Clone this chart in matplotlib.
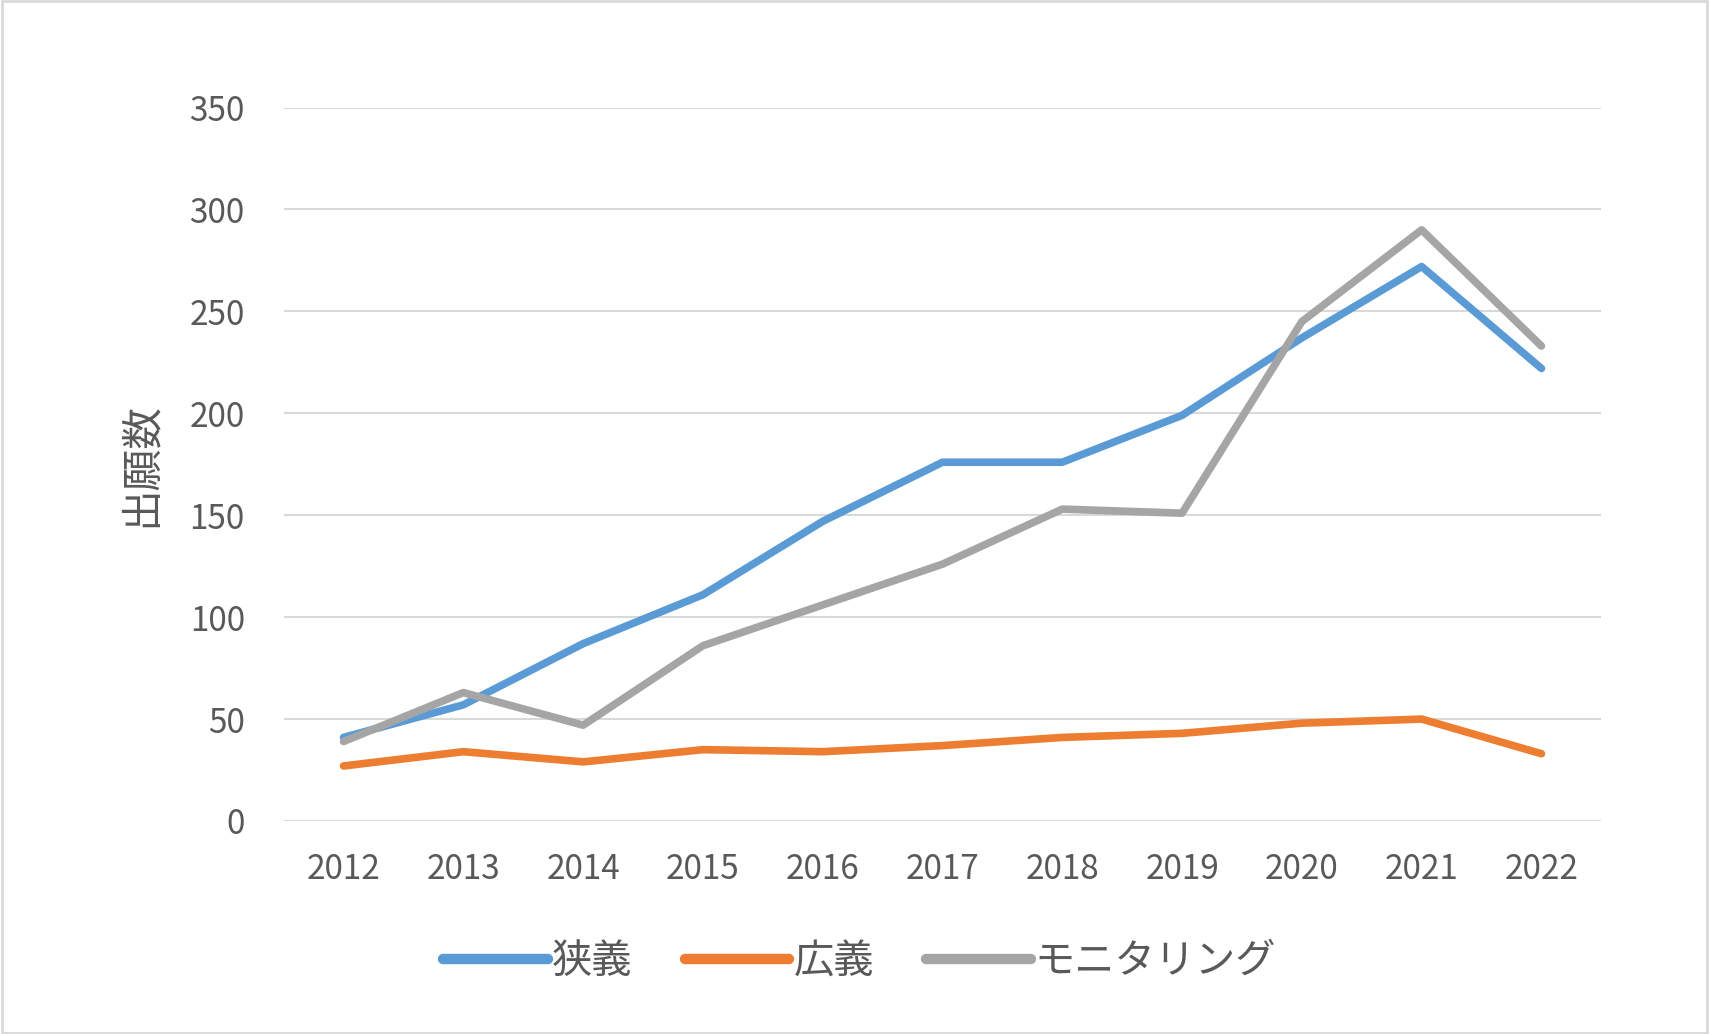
import matplotlib
matplotlib.use('Agg')
import matplotlib.pyplot as plt
from matplotlib.patches import Rectangle

plt.rcParams['font.family'] = ['Noto Sans CJK JP', 'DejaVu Sans']

# データ
years = ['2012', '2013', '2014', '2015', '2016', '2017', '2018', '2019', '2020', '2021', '2022']
kyougi = [41, 57, 87, 111, 147, 176, 176, 199, 237, 272, 222]
kougi = [27, 34, 29, 35, 34, 37, 41, 43, 48, 50, 33]
monitoring = [39, 63, 47, 86, 106, 126, 153, 151, 245, 290, 233]

series_names = ['狭義', '広義', 'モニタリング']
series_colors = ['#5B9BD5', '#ED7D31', '#A5A5A5']
text_color = '#595959'

fig = plt.figure(figsize=(17.09, 10.34), dpi=100)
ax = fig.add_axes([0.166, 0.206, 0.771, 0.690])

x = list(range(len(years)))
for vals, name, col in zip([kyougi, kougi, monitoring], series_names, series_colors):
    ax.plot(x, vals, color=col, linewidth=5.5, label=name,
            solid_capstyle='round', solid_joinstyle='round')

ax.set_xlim(-0.5, len(years) - 0.5)
ax.set_ylim(0, 350)
ax.set_yticks(range(0, 351, 50))
ax.set_xticks(x)
ax.set_xticklabels(years)
ax.yaxis.grid(True, color='#D9D9D9', linewidth=1.5)
ax.set_axisbelow(True)
for s in ax.spines.values():
    s.set_visible(False)
ax.tick_params(axis='both', length=0, labelsize=24, labelcolor=text_color)
ax.tick_params(axis='y', pad=28)
ax.tick_params(axis='x', pad=22)

ax.set_ylabel('出願数', fontsize=30, color=text_color, labelpad=20)

leg = fig.legend(loc='center', bbox_to_anchor=(0.503, 0.070), ncol=3, frameon=False,
                 fontsize=29, handlelength=2.6, handletextpad=0.1, columnspacing=1.3)
for t in leg.get_texts():
    t.set_color(text_color)
for h in leg.legend_handles:
    h.set_linewidth(7.5)
    h.set_solid_capstyle('round')

# 外枠
fig.patches.append(Rectangle((0.001, 0.001), 0.998, 0.998, transform=fig.transFigure,
                             fill=False, edgecolor='#D9D9D9', linewidth=2))

fig.savefig('out.png', dpi=100, facecolor='white')
